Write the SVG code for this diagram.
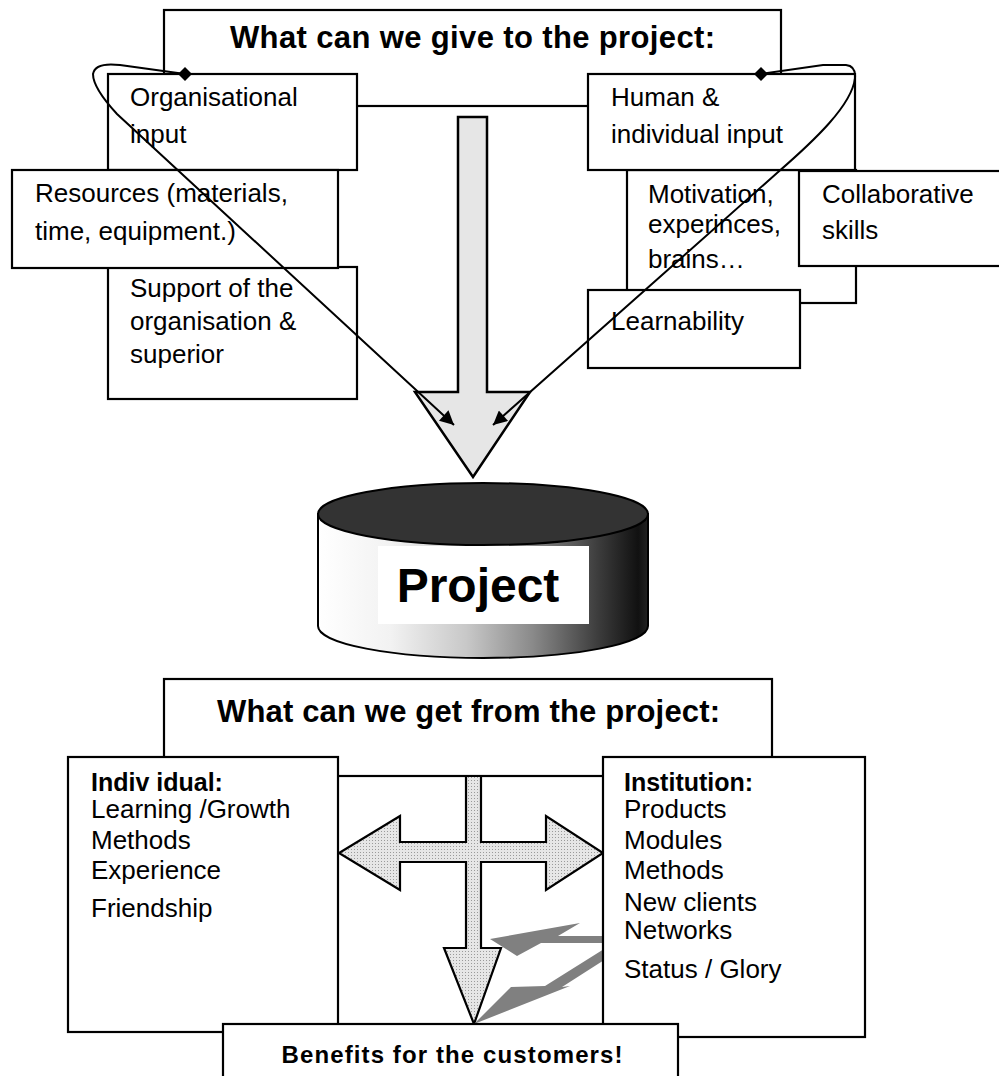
<svg xmlns="http://www.w3.org/2000/svg" width="999" height="1076" viewBox="0 0 999 1076">
<style>
.box{fill:#fff;stroke:#000;stroke-width:2.2}
.t{font-family:"Liberation Sans",Arial,sans-serif;font-size:26px;fill:#000}
.hb{font-family:"Liberation Sans",Arial,sans-serif;font-size:25px;font-weight:bold;fill:#000}
.ti{font-family:"Liberation Sans",Arial,sans-serif;font-size:31px;font-weight:bold;fill:#000}
.pj{font-family:"Liberation Sans",Arial,sans-serif;font-size:48px;font-weight:bold;fill:#000}
.bn{font-family:"Liberation Sans",Arial,sans-serif;font-size:24px;font-weight:bold;fill:#000}
.con{fill:none;stroke:#000;stroke-width:2}
</style>
<defs>
<marker id="ah" viewBox="0 0 10 10" refX="10" refY="5" markerWidth="20" markerHeight="14" markerUnits="userSpaceOnUse" orient="auto">
<path d="M0,0 L10,5 L0,10 Z" fill="#000"/>
</marker>
<marker id="dm" viewBox="-8 -8 16 16" refX="0" refY="0" markerWidth="16" markerHeight="16" markerUnits="userSpaceOnUse">
<path d="M0,-7 L7,0 L0,7 L-7,0 Z" fill="#000"/>
</marker>
<linearGradient id="cyl" x1="0" y1="0" x2="1" y2="0">
<stop offset="0" stop-color="#ffffff"/>
<stop offset="0.22" stop-color="#f2f2f2"/>
<stop offset="0.45" stop-color="#c8c8c8"/>
<stop offset="0.65" stop-color="#8a8a8a"/>
<stop offset="0.85" stop-color="#3c3c3c"/>
<stop offset="0.97" stop-color="#111"/>
<stop offset="1" stop-color="#222"/>
</linearGradient>
<pattern id="dots" width="3" height="3" patternUnits="userSpaceOnUse">
<rect width="3" height="3" fill="#e6e6e6"/>
<rect width="1" height="1" fill="#9a9a9a"/>
</pattern>
</defs>

<!-- top section -->
<g id="title-give">
<rect class="box" x="164" y="10" width="617" height="96"/>
<text class="ti" x="472.5" y="48" text-anchor="middle" textLength="485">What can we give to the project:</text>
</g>
<g id="org-input">
<rect class="box" x="108" y="74" width="249" height="96"/>
<text class="t" x="130" y="106">Organisational</text>
<text class="t" x="130" y="143">input</text>
</g>
<g id="support">
<rect class="box" x="108" y="267" width="249" height="132"/>
<text class="t" x="130" y="297">Support of the</text>
<text class="t" x="130" y="330">organisation &amp;</text>
<text class="t" x="130" y="363">superior</text>
</g>
<g id="resources">
<rect class="box" x="12" y="170" width="326" height="98"/>
<text class="t" x="35" y="202">Resources (materials,</text>
<text class="t" x="35" y="240">time, equipment.)</text>
</g>
<g id="motivation">
<rect class="box" x="627" y="170" width="229" height="133"/>
<text class="t" x="648" y="203">Motivation,</text>
<text class="t" x="648" y="233">experinces,</text>
<text class="t" x="648" y="268">brains…</text>
</g>
<g id="human-input">
<rect class="box" x="588" y="74" width="267" height="96"/>
<text class="t" x="611" y="106">Human &amp;</text>
<text class="t" x="611" y="143">individual input</text>
</g>
<g id="collaborative">
<rect class="box" x="799" y="171" width="215" height="95"/>
<text class="t" x="822" y="203">Collaborative</text>
<text class="t" x="822" y="239">skills</text>
</g>
<g id="learnability">
<rect class="box" x="588" y="290" width="212" height="78"/>
<text class="t" x="611" y="330">Learnability</text>
</g>
<g id="give-arrow">
<polygon points="458,117 487,117 487,392 530,392 473,477 415,392 458,392" fill="#e6e6e6" stroke="#000" stroke-width="2.5" stroke-linejoin="miter"/>
</g>

<!-- project cylinder -->
<g id="project">
<path d="M318,514 L318,626 A165,32 0 0 0 648,626 L648,514 Z" fill="url(#cyl)" stroke="#000" stroke-width="2"/>
<ellipse cx="483" cy="514" rx="165" ry="31" fill="#333333" stroke="#000" stroke-width="2"/>
<rect x="378" y="546" width="211" height="78" fill="#fff"/>
<text class="pj" x="478" y="602" text-anchor="middle">Project</text>
</g>

<!-- bottom section -->
<g id="title-get">
<rect class="box" x="164" y="679" width="608" height="97"/>
<text class="ti" x="468.5" y="722" text-anchor="middle" textLength="503">What can we get from the project:</text>
</g>
<g id="individual">
<rect class="box" x="68" y="757" width="270" height="275"/>
<text class="hb" x="91" y="791">Indiv idual:</text>
<text class="t" x="91" y="818">Learning /Growth</text>
<text class="t" x="91" y="849">Methods</text>
<text class="t" x="91" y="879">Experience</text>
<text class="t" x="91" y="917">Friendship</text>
</g>
<g id="get-arrows">
<polygon points="466,776 481,776 481,842 546,842 546,816 603,853 546,890 546,862 481,862 481,948 501,948 474,1024 444,948 466,948 466,862 400,862 400,890 339,853 400,816 400,842 466,842" fill="url(#dots)" stroke="#000" stroke-width="2.2" stroke-linejoin="miter"/>
<polygon points="490,939 580,923 558,936 612,936 612,943 541,943 517,956" fill="#808080"/>
<polygon points="474,1024 511,987 545,986 612,944 612,955 562,987 570,986" fill="#808080"/>
</g>
<g id="institution">
<rect class="box" x="603" y="757" width="262" height="280"/>
<text class="hb" x="624" y="791">Institution:</text>
<text class="t" x="624" y="818">Products</text>
<text class="t" x="624" y="849">Modules</text>
<text class="t" x="624" y="879">Methods</text>
<text class="t" x="624" y="911">New clients</text>
<text class="t" x="624" y="939">Networks</text>
<text class="t" x="624" y="978">Status / Glory</text>
</g>
<g id="benefits">
<rect class="box" x="223" y="1024" width="455" height="70"/>
<text class="bn" x="452" y="1063" text-anchor="middle" textLength="341">Benefits for the customers!</text>
</g>

<!-- connectors -->
<g id="connectors">
<path class="con" d="M185,74 L120,65 Q95,62 93,74 Q93,88 117,114 L454,425" marker-start="url(#dm)" marker-end="url(#ah)"/>
<path class="con" d="M761,74 L823,65 L846,65 Q856,66 855,78 C852,105 815,140 777,173 L493,425" marker-start="url(#dm)" marker-end="url(#ah)"/>
</g>
</svg>
